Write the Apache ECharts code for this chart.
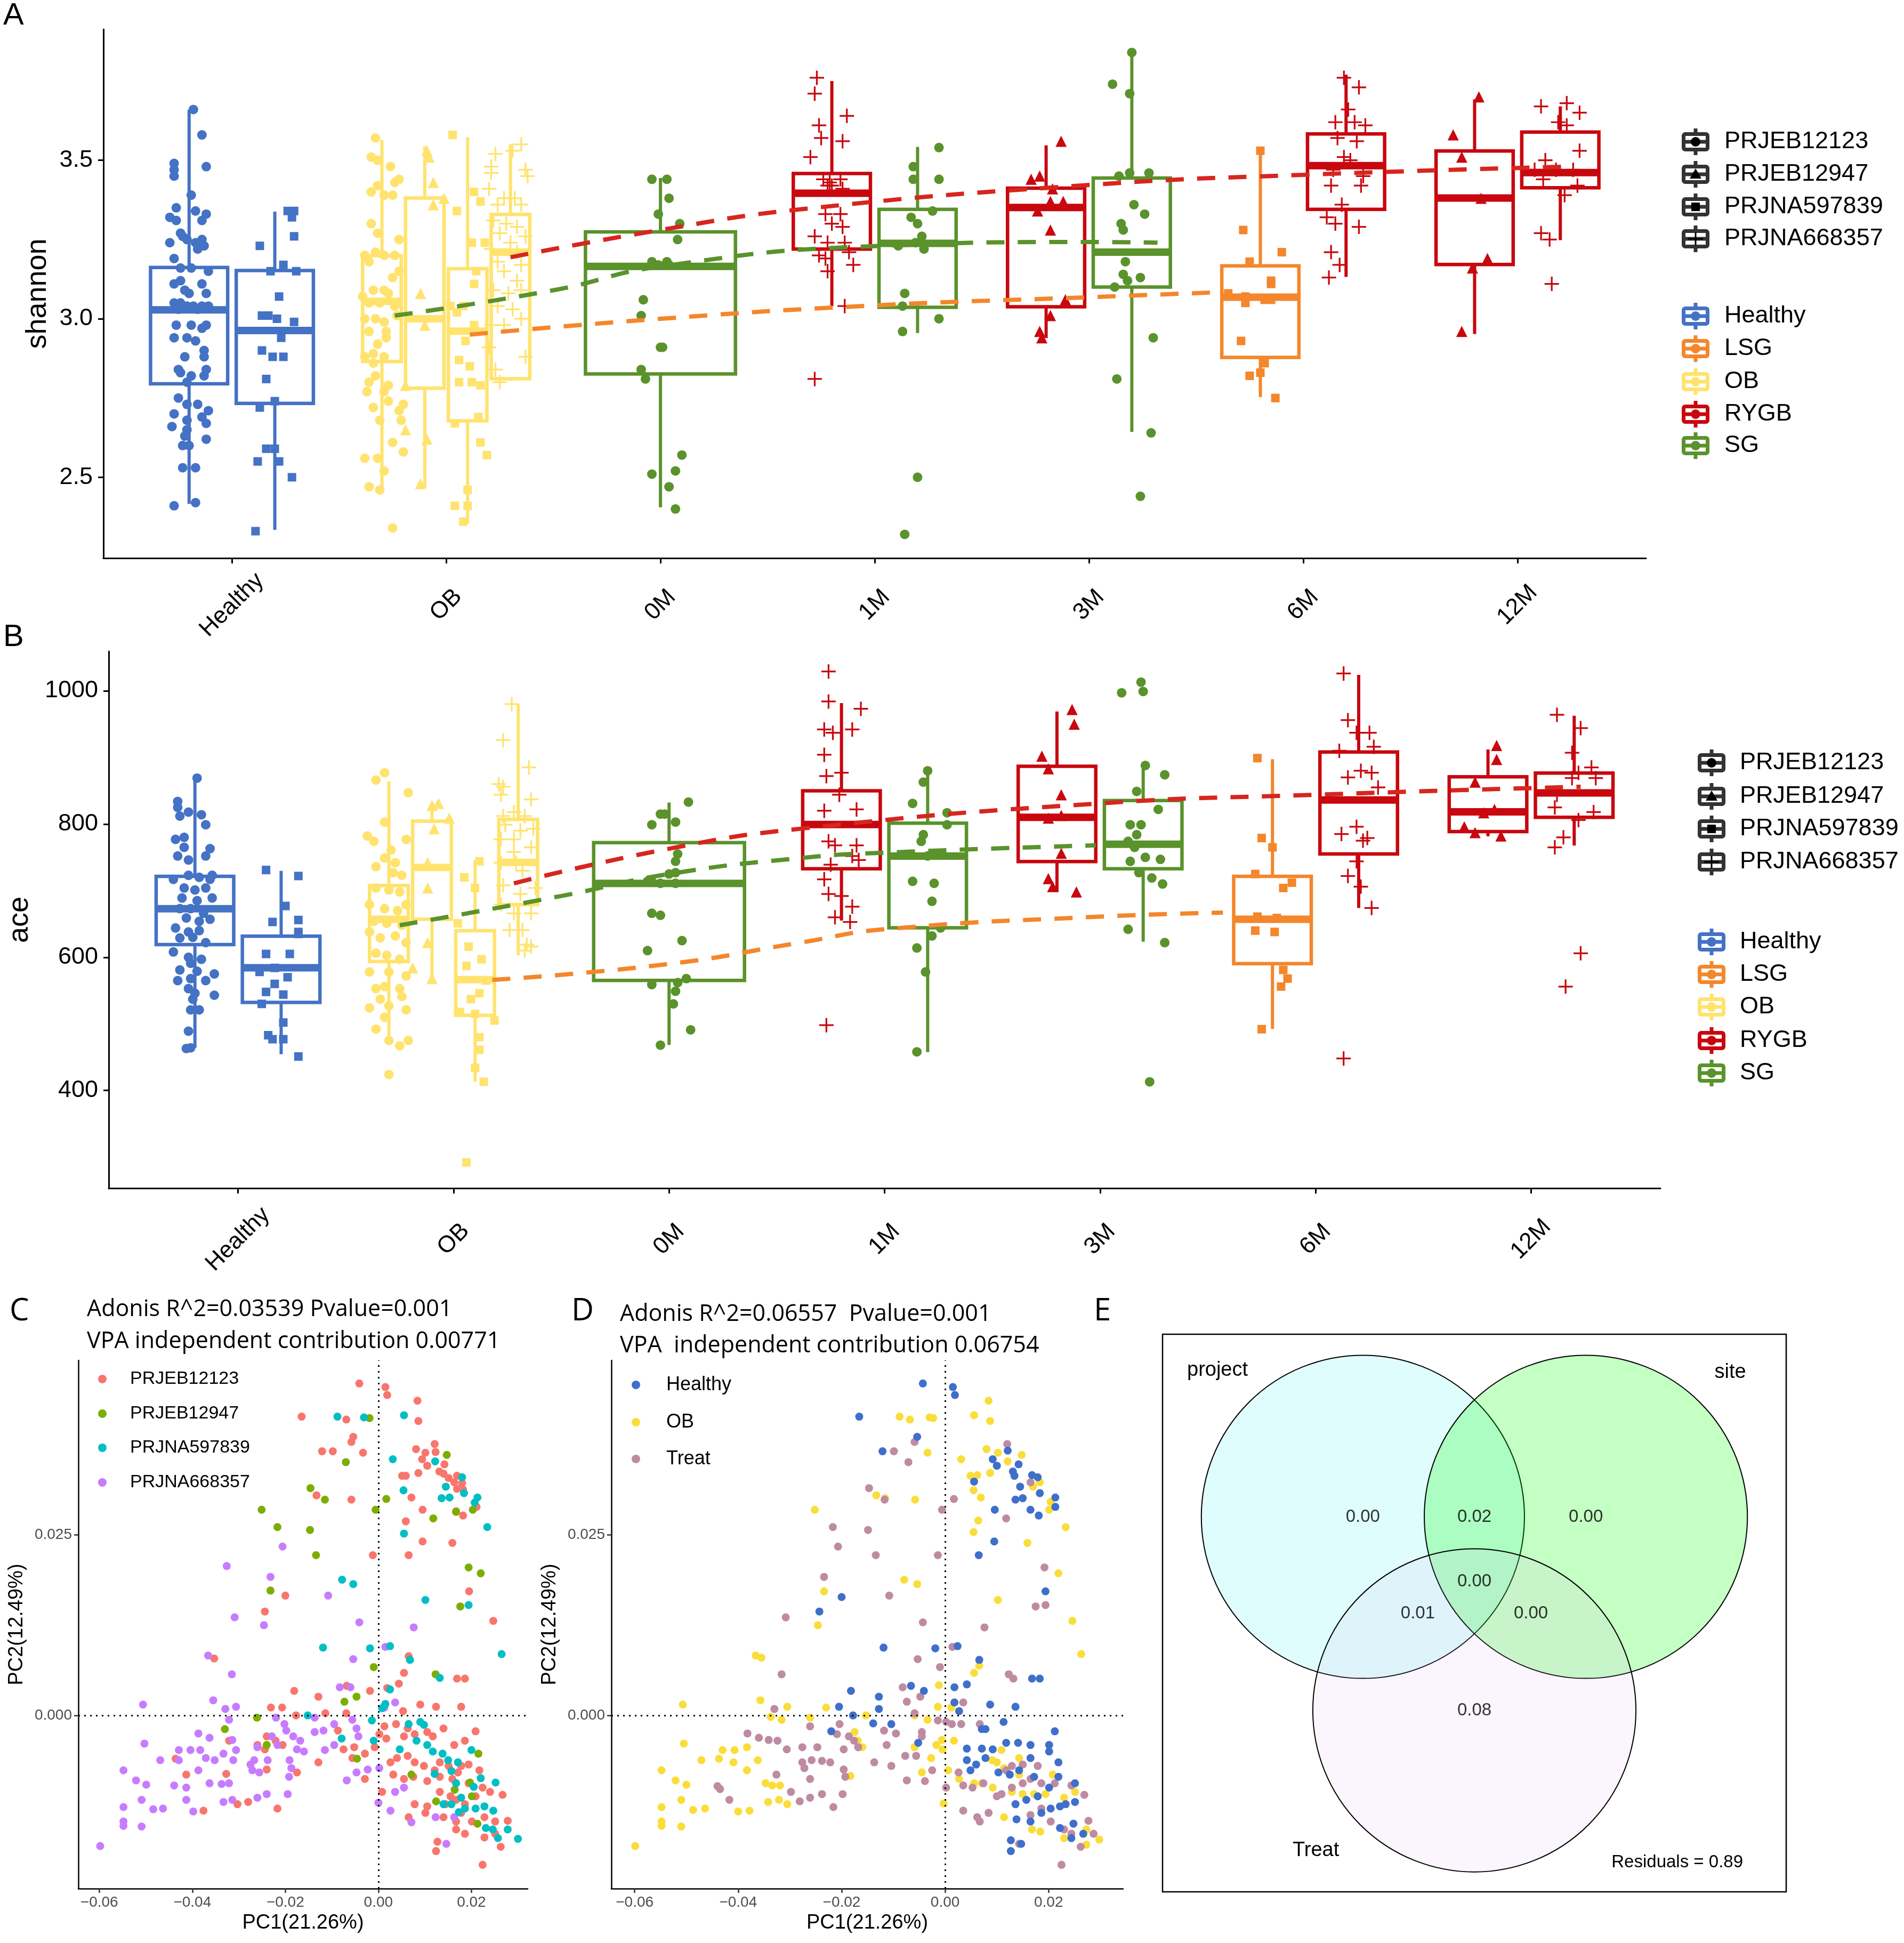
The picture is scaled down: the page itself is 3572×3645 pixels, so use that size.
<!DOCTYPE html>
<html><head><meta charset="utf-8">
<script src="https://cdn.jsdelivr.net/npm/echarts@6/dist/echarts.min.js"></script>
<style>html,body{margin:0;padding:0;background:#fff}#c{width:3572px;height:3645px}</style>
</head><body><div id="c"></div>
<script>
// ---------------- categories / keys ----------------
const categories = ['Healthy','OB','0M','1M','3M','6M','12M'];
const projects = ['PRJEB12123','PRJEB12947','PRJNA597839','PRJNA668357'];
const groups = ['Healthy','LSG','OB','RYGB','SG'];
const groupColors = ['#4472C4','#F4862B','#FFE36E','#C8070E','#5A922B'];
// box keys: [category, group, project]
const boxKeys = [
 ['Healthy','Healthy','PRJEB12123'],['Healthy','Healthy','PRJNA597839'],
 ['OB','OB','PRJEB12123'],['OB','OB','PRJEB12947'],['OB','OB','PRJNA597839'],['OB','OB','PRJNA668357'],
 ['0M','SG','PRJEB12123'],
 ['1M','RYGB','PRJNA668357'],['1M','SG','PRJEB12123'],
 ['3M','RYGB','PRJEB12947'],['3M','SG','PRJEB12123'],
 ['6M','LSG','PRJNA597839'],['6M','RYGB','PRJNA668357'],
 ['12M','RYGB','PRJEB12947'],['12M','RYGB','PRJNA668357']
];
// box stats [low, q1, median, q3, high]
const shannonStats = [
 [2.416,2.795,3.028,3.162,3.659],[2.334,2.733,2.963,3.152,3.338],
 [2.457,2.865,3.055,3.199,3.564],[2.467,2.781,3.000,3.381,3.544],[2.354,2.678,2.961,3.158,3.573],[2.804,2.811,3.210,3.329,3.551],
 [2.405,2.826,3.165,3.274,3.444],
 [3.040,3.220,3.396,3.458,3.750],[2.955,3.036,3.238,3.345,3.542],
 [2.939,3.038,3.351,3.412,3.547],[2.643,3.100,3.210,3.444,3.840],
 [2.753,2.878,3.068,3.167,3.538],[3.132,3.345,3.483,3.583,3.770],
 [2.952,3.171,3.381,3.529,3.692],[3.248,3.413,3.461,3.589,3.670]
];
const aceStats = [
 [464,619,672.8,721.5,869],[454.4,532.3,584.2,631.6,729.7],
 [470.3,593.7,657.0,707.6,863.9],[562.0,657.0,734.8,804.4,832.0],[413.3,512.7,566.5,639.9,745.6],[603.2,679.1,742.4,807.0,979.7],
 [468.4,565.2,710.8,772.1,832.3],
 [655.1,732.9,799.4,850.0,981.6],[457.6,644.3,751.9,801.3,880.4],
 [698.1,743.7,810.1,886.7,969.0],[623.4,732.9,769.6,835.4,888.0],
 [492.4,590.5,657.0,721.5,897.4],[674.0,755.1,836.1,908.2,1024.0],
 [781.6,788.6,818.3,870.9,912.0],[767.7,810.1,846.8,876.6,962.6]
];
// ---------------- shannon points [x, value] ----------------
const shHealthy_EB12123 = [[0.82,3.66],[0.86,3.58],[0.73,3.49],[0.73,3.47],[0.73,3.45],[0.88,3.48],[0.81,3.39],[0.74,3.35],[0.71,3.32],[0.74,3.31],[0.83,3.34],[0.88,3.33],[0.86,3.31],[0.76,3.27],[0.77,3.26],[0.71,3.24],[0.79,3.25],[0.83,3.24],[0.86,3.25],[0.87,3.23],[0.84,3.22],[0.73,3.19],[0.76,3.16],[0.81,3.16],[0.89,3.15],[0.73,3.11],[0.76,3.12],[0.86,3.11],[0.78,3.09],[0.80,3.08],[0.88,3.08],[0.73,3.05],[0.76,3.05],[0.79,3.04],[0.82,3.04],[0.86,3.04],[0.75,3.03],[0.84,3.03],[0.89,3.04],[0.74,2.98],[0.81,2.98],[0.88,2.98],[0.86,2.97],[0.73,2.94],[0.79,2.94],[0.83,2.93],[0.87,2.90],[0.78,2.88],[0.87,2.88],[0.75,2.84],[0.76,2.83],[0.81,2.82],[0.88,2.84],[0.87,2.82],[0.79,2.80],[0.75,2.75],[0.79,2.73],[0.84,2.73],[0.89,2.71],[0.73,2.70],[0.79,2.68],[0.86,2.69],[0.88,2.67],[0.72,2.66],[0.79,2.65],[0.88,2.62],[0.78,2.63],[0.77,2.60],[0.80,2.60],[0.77,2.53],[0.83,2.53],[0.73,2.41],[0.83,2.42]];
const shHealthy_NA597839 = [[1.29,3.34],[1.26,3.34],[1.28,3.32],[1.29,3.26],[1.13,3.23],[1.24,3.17],[1.18,3.15],[1.30,3.15],[1.22,3.07],[1.14,3.01],[1.17,3.01],[1.21,3.00],[1.29,2.99],[1.23,2.94],[1.14,2.90],[1.19,2.88],[1.24,2.88],[1.16,2.81],[1.20,2.74],[1.13,2.72],[1.16,2.59],[1.20,2.59],[1.12,2.55],[1.22,2.55],[1.28,2.50],[1.11,2.33]];
const shOB_EB12123 = [[1.67,3.57],[1.65,3.51],[1.68,3.50],[1.74,3.48],[1.68,3.42],[1.78,3.44],[1.76,3.43],[1.65,3.40],[1.71,3.39],[1.75,3.39],[1.65,3.30],[1.68,3.27],[1.78,3.25],[1.62,3.20],[1.67,3.21],[1.71,3.20],[1.76,3.20],[1.64,3.18],[1.78,3.15],[1.75,3.13],[1.61,3.07],[1.66,3.09],[1.71,3.09],[1.73,3.08],[1.64,3.05],[1.69,3.05],[1.76,3.04],[1.62,3.00],[1.67,3.00],[1.71,2.99],[1.77,3.01],[1.64,2.96],[1.72,2.96],[1.68,2.92],[1.72,2.94],[1.66,2.89],[1.71,2.88],[1.62,2.88],[1.66,2.86],[1.67,2.82],[1.64,2.80],[1.73,2.79],[1.63,2.77],[1.71,2.77],[1.66,2.72],[1.73,2.74],[1.80,2.73],[1.78,2.71],[1.69,2.68],[1.79,2.68],[1.75,2.61],[1.80,2.58],[1.62,2.56],[1.68,2.56],[1.71,2.52],[1.64,2.47],[1.69,2.46],[1.75,2.34]];
const shOB_EB12947 = [[1.91,3.53],[1.92,3.51],[1.94,3.43],[1.94,3.36],[1.99,3.38],[1.88,3.08],[1.90,2.98],[1.81,2.79],[1.81,2.65],[1.91,2.62],[1.88,2.48]];
const shOB_NA597839 = [[2.03,3.58],[2.13,3.40],[2.16,3.37],[2.05,3.34],[2.12,3.24],[2.18,3.24],[2.14,3.15],[2.13,3.11],[2.02,3.04],[2.08,3.04],[2.05,3.02],[2.13,2.98],[2.09,2.93],[2.06,2.87],[2.11,2.85],[2.06,2.80],[2.12,2.80],[2.16,2.79],[2.15,2.69],[2.04,2.67],[2.16,2.61],[2.19,2.57],[2.10,2.46],[2.10,2.41],[2.04,2.41],[2.08,2.36]];
const shOB_NA668357 = [[2.23,3.52],[2.31,3.53],[2.35,3.55],[2.21,3.48],[2.21,3.46],[2.37,3.47],[2.38,3.45],[2.20,3.41],[2.27,3.38],[2.32,3.38],[2.24,3.36],[2.35,3.36],[2.22,3.31],[2.28,3.30],[2.33,3.29],[2.25,3.27],[2.37,3.26],[2.30,3.24],[2.21,3.22],[2.33,3.21],[2.24,3.18],[2.35,3.17],[2.27,3.15],[2.33,3.12],[2.22,3.09],[2.29,3.08],[2.35,3.09],[2.24,3.04],[2.31,3.03],[2.21,2.98],[2.35,3.00],[2.27,2.98],[2.37,2.88],[2.23,2.84],[2.25,2.80],[2.20,2.91]];
const sh0M_SG = [[2.96,3.44],[3.03,3.44],[3.04,3.38],[2.99,3.33],[3.09,3.30],[3.08,3.25],[2.96,3.18],[3.03,3.18],[2.99,3.17],[3.04,3.17],[2.92,3.06],[2.91,3.01],[3.01,2.91],[3.00,2.91],[2.91,2.84],[2.93,2.81],[3.10,2.57],[3.07,2.52],[2.96,2.51],[3.04,2.47],[3.07,2.40]];
const sh1M_RYGB = [[3.73,3.76],[3.72,3.71],[3.87,3.64],[3.74,3.61],[3.75,3.57],[3.85,3.56],[3.70,3.51],[3.76,3.44],[3.79,3.43],[3.84,3.44],[3.78,3.42],[3.80,3.42],[3.85,3.41],[3.77,3.33],[3.84,3.33],[3.80,3.30],[3.85,3.29],[3.72,3.26],[3.78,3.24],[3.86,3.24],[3.74,3.20],[3.77,3.19],[3.88,3.21],[3.90,3.17],[3.78,3.15],[3.86,3.04],[3.72,2.81]];
const sh1M_SG = [[4.30,3.54],[4.18,3.48],[4.18,3.44],[4.30,3.44],[4.27,3.34],[4.17,3.32],[4.20,3.30],[4.22,3.26],[4.11,3.23],[4.19,3.24],[4.23,3.22],[4.14,3.08],[4.13,3.04],[4.30,3.00],[4.13,2.96],[4.20,2.50],[4.14,2.32]];
const sh3M_RYGB = [[4.87,3.56],[4.73,3.44],[4.77,3.45],[4.83,3.41],[4.82,3.37],[4.88,3.37],[4.76,3.34],[4.82,3.28],[4.89,3.06],[4.82,3.01],[4.77,2.96],[4.78,2.94]];
const sh3M_SG = [[5.20,3.84],[5.11,3.74],[5.19,3.71],[5.14,3.45],[5.19,3.46],[5.28,3.46],[5.21,3.36],[5.26,3.33],[5.15,3.30],[5.16,3.28],[5.17,3.18],[5.16,3.14],[5.24,3.13],[5.18,3.12],[5.12,3.10],[5.30,2.94],[5.13,2.81],[5.29,2.64],[5.24,2.44]];
const sh6M_LSG = [[5.80,3.53],[5.72,3.28],[5.75,3.18],[5.90,3.21],[5.85,3.12],[5.85,3.11],[5.73,3.07],[5.82,3.06],[5.65,3.08],[5.85,3.06],[5.73,3.05],[5.71,2.93],[5.82,2.86],[5.75,2.82],[5.80,2.83],[5.87,2.75]];
const sh6M_RYGB = [[6.19,3.76],[6.26,3.73],[6.21,3.66],[6.15,3.62],[6.24,3.62],[6.29,3.61],[6.16,3.57],[6.25,3.56],[6.19,3.51],[6.22,3.50],[6.14,3.47],[6.28,3.45],[6.27,3.42],[6.13,3.42],[6.18,3.36],[6.11,3.32],[6.15,3.30],[6.26,3.29],[6.13,3.21],[6.17,3.17],[6.12,3.13]];
const sh12M_RYGB_EB12947 = [[6.82,3.70],[6.70,3.58],[6.74,3.51],[6.83,3.38],[6.86,3.19],[6.79,3.16],[6.74,2.96]];
const sh12M_RYGB_NA668357 = [[7.11,3.67],[7.23,3.68],[7.29,3.65],[7.19,3.62],[7.23,3.61],[7.13,3.50],[7.29,3.53],[7.08,3.47],[7.18,3.47],[7.26,3.47],[7.12,3.44],[7.28,3.42],[7.22,3.39],[7.11,3.27],[7.15,3.25],[7.16,3.11]];
// ---------------- ace points [x, value] ----------------
const aceHealthy_EB12123 = [[0.81,869],[0.72,834],[0.72,825],[0.77,818],[0.83,814],[0.85,799],[0.73,812],[0.75,780],[0.71,777],[0.75,765],[0.87,763],[0.72,752],[0.85,752],[0.77,746],[0.88,723],[0.70,717],[0.77,723],[0.82,720],[0.87,717],[0.75,704],[0.80,701],[0.85,704],[0.74,689],[0.81,685],[0.88,689],[0.73,673],[0.78,673],[0.84,666],[0.76,659],[0.82,654],[0.87,657],[0.71,644],[0.77,638],[0.82,640],[0.73,629],[0.79,630],[0.85,622],[0.70,608],[0.77,600],[0.83,597],[0.78,591],[0.73,581],[0.81,579],[0.89,575],[0.72,565],[0.78,568],[0.85,565],[0.77,553],[0.80,546],[0.89,543],[0.79,537],[0.78,521],[0.82,521],[0.77,489],[0.78,464],[0.76,463]];
const aceHealthy_NA597839 = [[1.13,731],[1.28,722],[1.22,677],[1.16,653],[1.28,656],[1.28,638],[1.28,635],[1.13,605],[1.24,605],[1.10,578],[1.17,584],[1.23,570],[1.13,548],[1.21,544],[1.17,560],[1.11,530],[1.21,502],[1.14,483],[1.16,477],[1.21,477],[1.28,451]];
const aceOB_EB12123 = [[1.68,877],[1.64,866],[1.79,847],[1.68,803],[1.60,782],[1.63,774],[1.71,761],[1.78,777],[1.68,749],[1.64,736],[1.73,742],[1.72,727],[1.76,723],[1.64,704],[1.70,701],[1.75,698],[1.61,679],[1.68,673],[1.74,670],[1.78,679],[1.63,654],[1.69,651],[1.76,648],[1.61,638],[1.66,629],[1.73,632],[1.78,622],[1.64,606],[1.69,603],[1.75,597],[1.61,578],[1.70,578],[1.78,572],[1.64,553],[1.68,556],[1.75,553],[1.76,541],[1.66,537],[1.61,524],[1.70,527],[1.78,521],[1.68,510],[1.64,492],[1.70,475],[1.75,467],[1.79,475],[1.70,424]];
const aceOB_EB12947 = [[1.93,831],[1.90,828],[1.98,809],[1.91,793],[1.88,704],[1.88,742],[1.81,584],[1.90,568],[1.88,622]];
const aceOB_NA597839 = [[2.12,744],[2.05,720],[2.10,704],[2.02,651],[2.07,616],[2.13,597],[2.06,587],[2.15,565],[2.12,546],[2.08,537],[2.03,518],[2.10,515],[2.19,505],[2.12,480],[2.12,461],[2.10,434],[2.14,413],[2.06,292]];
const aceOB_NA668357 = [[2.27,980],[2.23,926],[2.35,885],[2.21,860],[2.23,856],[2.22,844],[2.36,837],[2.28,818],[2.23,812],[2.33,812],[2.24,799],[2.31,790],[2.37,793],[2.28,777],[2.22,777],[2.28,758],[2.36,765],[2.22,742],[2.29,742],[2.32,730],[2.23,708],[2.31,695],[2.38,704],[2.22,679],[2.28,666],[2.36,666],[2.26,641],[2.32,641],[2.34,619],[2.33,610],[2.36,616]];
const ace0M_SG = [[3.09,833],[2.96,815],[2.92,799],[2.98,815],[3.03,803],[3.04,755],[3.03,744],[3.00,725],[3.03,727],[2.90,714],[2.92,714],[2.96,711],[3.03,711],[2.92,666],[2.96,663],[3.06,625],[2.90,610],[2.92,559],[3.04,562],[3.08,568],[3.03,549],[3.02,530],[3.10,491],[2.96,468]];
const ace1M_RYGB = [[3.74,1029],[3.74,984],[3.89,973],[3.72,942],[3.76,937],[3.85,942],[3.72,904],[3.73,872],[3.80,877],[3.79,844],[3.87,822],[3.72,820],[3.74,774],[3.77,768],[3.87,768],[3.85,752],[3.88,746],[3.75,739],[3.72,717],[3.74,695],[3.80,692],[3.85,676],[3.77,660],[3.84,653],[3.73,498]];
const ace1M_SG = [[4.20,880],[4.18,863],[4.13,831],[4.17,774],[4.18,784],[4.29,817],[4.29,799],[4.20,752],[4.26,755],[4.13,714],[4.23,711],[4.22,684],[4.26,644],[4.22,632],[4.15,614],[4.19,578],[4.15,458]];
const ace3M_RYGB = [[4.87,972],[4.88,950],[4.73,902],[4.76,883],[4.82,844],[4.76,809],[4.82,813],[4.82,756],[4.76,718],[4.78,706],[4.89,698]];
const ace3M_SG = [[5.19,1013],[5.10,997],[5.20,999],[5.21,888],[5.30,874],[5.17,849],[5.27,822],[5.14,799],[5.19,799],[5.17,784],[5.13,774],[5.16,765],[5.14,744],[5.21,750],[5.28,747],[5.18,727],[5.24,719],[5.29,710],[5.13,642],[5.30,622],[5.23,413]];
const ace6M_LSG = [[5.73,899],[5.75,779],[5.80,765],[5.72,725],[5.89,712],[5.85,704],[5.73,661],[5.82,659],[5.72,640],[5.81,638],[5.85,581],[5.87,568],[5.84,556],[5.75,492]];
const ace6M_RYGB = [[6.13,1026],[6.15,956],[6.19,937],[6.25,937],[6.11,910],[6.27,916],[6.15,870],[6.21,880],[6.26,877],[6.29,855],[6.19,796],[6.12,785],[6.22,775],[6.24,779],[6.19,744],[6.15,722],[6.21,706],[6.26,674],[6.13,448]];
const ace12M_RYGB_EB12947 = [[6.84,918],[6.84,897],[6.74,863],[6.83,822],[6.78,817],[6.69,796],[6.74,787],[6.86,782]];
const ace12M_RYGB_NA668357 = [[7.12,964],[7.23,944],[7.19,907],[7.22,877],[7.28,885],[7.30,869],[7.19,869],[7.12,844],[7.11,825],[7.29,818],[7.22,806],[7.15,780],[7.11,765],[7.23,606],[7.16,556]];
// ---------------- smoothed trend lines [x, value] ----------------
const shTrendRYGB = [[2.30,3.194],[3.0,3.28],[3.65,3.345],[5.0,3.422],[6.0,3.454],[7.25,3.48]];
const shTrendSG = [[1.76,3.01],[2.5,3.09],[3.0,3.165],[4.0,3.229],[5.0,3.242],[5.32,3.24]];
const shTrendLSG = [[2.11,2.95],[3.0,3.0],[4.0,3.042],[5.0,3.068],[5.62,3.084]];
const aceTrendRYGB = [[2.28,711],[3.0,763],[3.61,793],[5.0,831],[6.0,844],[7.23,856]];
const aceTrendSG = [[1.75,648],[2.5,692],[3.0,725],[3.61,749],[4.0,757],[4.98,768]];
const aceTrendLSG = [[2.18,566],[3.0,590],[3.61,622],[4.0,642],[5.0,661],[5.57,667]];
// ---------------- PCoA points, PC1/PC2 in units of 1e-3 ----------------
const pcPRJEB12123 = [[-4.1,46.0],[1.5,45.5],[1.9,44.4],[8.4,43.6],[-16.5,41.4],[-6.9,41.0],[8.6,40.8],[-5.4,38.6],[-5.8,37.9],[-12.1,36.6],[-9.8,36.6],[-3.3,36.4],[8.1,36.9],[10.1,36.4],[12.1,37.6],[12.3,36.5],[9.4,35.5],[10.5,34.6],[14.2,34.8],[13.1,33.8],[8.6,33.6],[14.0,33.5],[15.1,32.9],[5.1,33.2],[5.9,33.2],[16.9,33.2],[16.3,32.3],[18.0,32.2],[16.9,31.4],[7.1,30.2],[-13.3,30.5],[-5.8,29.9],[18.2,31.3],[9.5,28.5],[5.9,26.9],[9.5,24.1],[15.9,23.9],[6.5,22.2],[-1.2,22.2],[18.2,27.7],[21.1,28.9],[16.7,28.3],[-20.0,16.6],[-24.4,14.4],[24.7,13.1],[19.5,17.2],[-35.3,7.9],[6.5,8.2],[5.5,5.9],[4.4,4.4],[1.9,3.8],[16.9,5.1],[18.6,5.1],[-18.1,3.4],[-12.9,2.6],[-6.8,4.1],[-1.8,3.4],[-23.1,1.1],[-20.7,1.1],[-11.4,0.3],[-6.9,0.3],[9.0,1.5],[5.3,0.6],[12.4,1.2],[17.8,1.2],[-17.7,0.0],[-24.0,-2.9],[-22.1,-3.5],[-32.1,-3.5],[-26.0,-4.1],[-24.4,-4.7],[-20.6,-4.1],[-43.6,-6.0],[-41.3,-8.2],[-32.7,-8.1],[-24.0,-7.5],[-8.7,-2.1],[-7.5,-4.7],[-5.2,-4.4],[-5.6,-5.9],[-2.9,-5.3],[-0.8,-4.4],[0.2,-2.6],[1.7,-3.2],[1.3,-1.5],[3.8,-1.2],[6.3,-1.8],[5.5,-2.9],[7.8,-2.6],[10.5,-2.3],[14.0,-1.8],[11.7,-2.9],[16.3,-4.1],[18.6,-3.5],[20.9,-2.2],[2.6,-6.5],[4.0,-5.9],[6.3,-5.6],[7.8,-6.5],[9.8,-7.0],[12.1,-7.6],[13.2,-6.5],[15.1,-7.0],[17.8,-7.0],[19.4,-6.8],[21.7,-7.6],[3.2,-8.2],[5.5,-8.8],[7.5,-8.5],[10.5,-9.1],[13.2,-8.5],[15.9,-8.8],[19.4,-9.4],[17.1,-7.9],[-2.9,-8.8],[-12.9,-6.5],[-17.5,-7.9],[-30.3,-12.3],[-28.0,-12.0],[-37.6,-13.2],[0.8,-10.6],[6.5,-14.1],[7.8,-12.3],[10.5,-12.6],[10.1,-13.5],[13.2,-10.6],[15.5,-11.2],[14.4,-12.3],[16.7,-11.7],[18.6,-12.3],[20.9,-11.2],[22.4,-10.0],[24.0,-10.6],[26.7,-11.0],[17.8,-13.5],[20.1,-14.7],[22.8,-14.1],[25.1,-14.7],[27.8,-14.6],[16.7,-15.8],[18.6,-16.4],[22.8,-16.9],[25.1,-16.4],[26.3,-18.2],[12.7,-17.5],[12.4,-18.8],[22.4,-20.7],[14.0,-14.1],[16.7,-14.7],[-21.7,-12.9]];
const pcPRJEB12947 = [[-1.9,41.2],[-7.0,35.1],[-14.6,31.5],[-11.5,29.9],[1.7,30.0],[14.7,36.1],[-0.6,28.5],[-25.1,28.5],[-21.7,26.1],[-14.7,25.7],[-13.4,22.2],[11.8,27.3],[20.3,28.5],[16.7,28.2],[19.4,20.5],[22.0,19.7],[-23.2,17.3],[17.6,15.1],[-1.0,6.7],[12.3,5.7],[-7.3,1.9],[-4.7,2.6],[-26.1,-0.3],[-33.0,-1.9],[-4.6,-6.0],[-24.0,-4.1],[21.5,-5.3],[19.7,-9.3],[7.1,-8.2],[12.4,-11.9],[16.4,-10.3],[21.3,-15.0],[20.1,-11.2]];
const pcPRJNA597839 = [[-8.8,41.4],[-3.1,41.3],[5.5,41.6],[3.1,35.5],[12.2,35.2],[18.0,33.0],[5.4,31.2],[14.5,31.7],[13.6,30.1],[15.3,30.2],[18.4,30.8],[23.4,26.1],[5.5,25.2],[20.7,29.5],[21.3,30.2],[-7.8,18.8],[-5.4,18.2],[10.1,16.0],[19.4,15.3],[26.5,8.5],[-11.9,9.4],[-1.8,9.3],[2.5,9.6],[6.8,7.7],[13.2,5.2],[2.5,3.6],[1.5,1.6],[0.8,1.0],[-15.2,0.0],[-1.4,-0.7],[6.5,-1.2],[9.0,-0.9],[9.8,-1.3],[-1.0,-3.5],[4.6,-4.7],[8.2,-3.5],[10.5,-4.1],[11.7,-5.0],[13.8,-5.3],[15.0,-6.2],[17.1,-6.5],[20.0,-4.8],[12.1,-8.1],[15.7,-7.7],[16.7,-9.4],[22.0,-8.7],[25.2,-9.3],[-7.9,-3.2],[14.0,-12.3],[15.7,-12.3],[17.8,-11.4],[18.6,-12.9],[20.9,-12.9],[22.8,-12.6],[24.7,-13.2],[23.1,-15.6],[24.6,-15.8],[25.7,-17.0],[27.8,-15.8],[30.0,-17.1],[20.5,-9.9],[17.3,-13.4]];
const pcPRJNA668357 = [[-20.6,23.4],[-32.6,20.7],[-23.2,19.2],[-10.8,16.6],[-30.9,13.6],[-24.6,12.5],[-4.1,12.9],[7.6,12.2],[-36.6,8.3],[1.5,9.5],[-5.4,7.8],[-31.5,5.7],[-35.5,2.1],[-30.6,1.2],[-32.9,0.9],[-50.6,1.5],[-8.3,3.9],[-6.0,3.9],[3.6,1.8],[1.3,1.1],[-22.0,-0.3],[-13.7,-0.3],[-32.1,-0.6],[-50.3,-3.9],[-54.8,-7.6],[-52.1,-9.0],[-49.9,-9.6],[-46.9,-6.2],[-42.9,-4.8],[-40.4,-4.8],[-42.9,-6.2],[-38.7,-2.5],[-36.3,-3.1],[-38.3,-4.8],[-37.1,-5.9],[-35.2,-6.2],[-33.3,-5.3],[-31.4,-3.4],[-30.6,-4.8],[-31.2,-6.2],[-26.7,-6.2],[-26.0,-4.4],[-27.5,-6.8],[-27.1,-7.6],[-25.6,-7.9],[-23.8,-6.2],[-22.9,-2.9],[-21.7,-4.1],[-20.2,-1.2],[-19.8,-2.1],[-18.3,-2.9],[-16.8,-3.5],[-17.5,-4.7],[-16.0,-5.0],[-19.1,-6.2],[-18.7,-7.3],[-19.2,-8.5],[-13.7,-2.3],[-11.8,-2.1],[-9.5,-1.2],[-9.5,-4.1],[-11.5,-4.8],[-5.6,-0.6],[-4.7,-1.8],[-4.3,-2.9],[-6.8,-9.0],[-4.7,-7.9],[-2.3,-7.5],[0.2,-7.3],[-32.1,-9.4],[-33.7,-9.5],[-43.9,-9.7],[-41.3,-10.0],[-38.7,-7.6],[-36.3,-9.4],[-54.8,-12.7],[-54.8,-14.7],[-54.8,-15.3],[-50.9,-11.7],[-50.9,-15.4],[-48.4,-13.0],[-46.3,-12.9],[-59.8,-18.1],[-41.3,-11.7],[-39.8,-13.3],[-31.4,-11.7],[-33.3,-12.0],[-26.0,-11.4],[-24.0,-10.9],[-19.5,-10.9],[0.0,-12.1],[2.6,-13.2],[3.6,-10.6],[7.1,-14.8],[12.3,-14.1],[14.6,-17.8],[16.3,-14.1],[5.5,-10.0]];
const pcHealthy = [[-4.3,46.0],[1.5,45.5],[1.9,44.4],[-16.6,41.4],[-5.4,38.6],[-12.1,36.6],[12.1,36.7],[9.2,35.5],[10.0,34.6],[14.2,34.8],[13.1,33.8],[5.6,32.4],[13.4,33.2],[16.8,33.3],[17.9,33.0],[14.5,31.7],[18.3,30.8],[13.6,29.9],[15.0,30.1],[9.6,28.5],[16.5,28.5],[18.1,27.7],[21.3,30.2],[21.3,28.9],[9.5,24.1],[6.5,22.2],[19.4,17.2],[-20.0,16.4],[-24.3,14.4],[-11.9,9.4],[-1.9,9.3],[2.4,9.6],[6.6,7.7],[16.8,5.1],[18.3,5.1],[1.8,3.9],[4.2,4.3],[-18.2,3.4],[-12.8,2.6],[-6.6,4.1],[-4.1,3.4],[-20.5,1.2],[1.8,1.8],[2.7,0.6],[8.7,1.5],[13.6,1.2],[-17.8,0.0],[-13.9,-1.1],[-12.8,0.9],[-22.0,-2.2],[-10.4,-1.2],[-5.2,-3.8],[7.1,-1.9],[7.8,-1.9],[11.3,-0.9],[21.2,-2.2],[4.2,-4.6],[7.1,-4.6],[9.2,-4.7],[11.8,-3.8],[14.1,-3.8],[16.5,-4.1],[20.1,-4.1],[4.2,-6.2],[6.0,-6.8],[7.8,-5.9],[12.5,-8.2],[16.5,-5.9],[20.1,-5.0],[21.9,-6.5],[4.9,-7.6],[10.3,-7.9],[14.3,-7.6],[17.2,-8.5],[20.1,-10.0],[21.9,-8.5],[25.1,-9.4],[13.6,-12.3],[15.7,-11.7],[17.9,-11.2],[20.4,-12.9],[22.2,-12.6],[23.3,-12.3],[25.1,-12.0],[13.8,-14.4],[16.5,-14.7],[18.6,-13.5],[22.2,-15.6],[24.8,-15.0],[24.4,-17.0],[26.7,-16.4],[12.7,-17.3],[12.7,-18.8],[14.7,-17.8]];
const pcOB = [[8.4,43.6],[-8.8,41.4],[-6.8,41.0],[-3.0,41.3],[-2.3,41.2],[5.6,41.6],[8.7,40.8],[-3.4,36.4],[8.0,36.9],[10.2,36.4],[3.1,35.5],[12.1,35.2],[14.8,36.1],[8.7,33.6],[4.9,33.2],[6.2,33.3],[5.5,31.2],[6.9,30.2],[-13.3,30.5],[-11.6,30.1],[-5.8,29.9],[17.0,31.7],[18.3,32.3],[20.4,29.6],[20.1,28.5],[-25.2,28.5],[6.4,27.0],[5.5,25.4],[15.9,23.9],[23.3,26.1],[21.9,19.7],[-7.9,18.8],[-5.4,18.2],[-23.4,17.2],[10.2,16.0],[24.6,13.1],[-24.6,12.5],[26.3,8.5],[-36.6,8.3],[-35.5,8.0],[6.6,6.9],[5.6,5.9],[-1.2,4.2],[-50.7,1.5],[-35.7,2.1],[-30.5,1.2],[-33.7,-0.2],[-31.6,-0.6],[-26.1,-0.3],[-23.0,1.1],[-15.3,0.0],[-5.9,0.0],[-1.4,1.2],[1.2,1.1],[-3.4,-0.6],[-0.6,-3.4],[1.7,-3.5],[-1.7,-4.1],[-0.5,-4.7],[-5.9,-4.4],[-4.5,-7.9],[0.6,-7.6],[2.7,-8.8],[5.6,-9.4],[10.0,-6.5],[11.4,-7.3],[14.3,-8.2],[15.0,-10.9],[17.2,-10.9],[19.4,-10.9],[20.8,-8.2],[23.0,-11.4],[25.1,-10.6],[10.9,-4.8],[9.1,-6.2],[14.3,-5.9],[7.1,-9.4],[9.2,-10.0],[12.9,-10.6],[11.4,-14.1],[16.8,-15.8],[18.4,-16.1],[23.0,-17.0],[27.3,-17.9],[29.8,-17.2],[27.3,-15.8],[-0.3,-12.2],[-50.5,-3.9],[-54.8,-7.6],[-52.1,-9.0],[-50.0,-9.6],[-47.1,-6.2],[-43.0,-4.8],[-40.7,-4.8],[-43.7,-6.0],[-40.9,-6.5],[-38.3,-4.4],[-38.3,-7.6],[-36.2,-6.2],[-34.7,-9.4],[-33.4,-9.7],[-31.9,-9.7],[-34.2,-12.0],[-32.1,-11.7],[-30.5,-12.3],[-54.8,-12.7],[-54.8,-14.7],[-54.8,-15.3],[-51.0,-11.7],[-51.0,-15.4],[-48.7,-13.1],[-46.4,-12.9],[-59.9,-18.1],[-40.0,-13.3],[-37.8,-13.2],[-16.9,-3.5],[-17.5,-2.3],[-18.3,-8.4],[-16.0,-4.4],[-2.7,-5.9]];
const pcTreat = [[-9.9,36.6],[-7.1,35.1],[-5.9,37.9],[12.0,37.6],[-14.7,31.5],[-11.7,29.9],[-0.6,28.5],[1.7,30.0],[-21.7,26.1],[-14.9,25.7],[-20.7,23.4],[-13.4,22.2],[-1.4,22.2],[11.8,27.3],[16.5,32.3],[19.2,20.5],[17.5,15.1],[19.4,15.3],[-23.4,19.2],[-10.8,16.6],[7.6,12.2],[-30.8,13.6],[-4.3,12.9],[-31.6,5.7],[-5.3,7.8],[-1.0,6.7],[1.4,9.5],[12.3,5.7],[13.2,5.1],[-8.2,3.9],[-4.8,2.6],[-7.4,1.9],[3.5,1.8],[0.2,-0.9],[3.1,-1.2],[6.7,-1.2],[-5.9,0.3],[-1.4,-0.7],[-33.0,0.9],[-38.2,-2.5],[-36.0,-3.1],[-34.1,-3.4],[-32.4,-3.5],[-30.6,-4.7],[-26.1,-1.5],[-24.7,-4.4],[-20.4,-1.2],[-20.9,-2.6],[-18.6,-2.9],[-17.6,-3.5],[-16.8,-4.4],[-19.6,-4.7],[-13.7,-6.5],[-10.4,-7.0],[-7.7,-5.6],[-5.6,-5.6],[-4.5,-2.3],[-4.5,-2.9],[-11.8,-2.1],[-11.3,-4.1],[-9.5,-2.5],[-27.6,-4.4],[-25.8,-6.2],[-23.8,-6.3],[-27.6,-6.5],[-27.2,-7.3],[-26.1,-8.8],[-23.8,-10.9],[-22.2,-6.5],[-19.6,-7.5],[-19.3,-8.5],[-19.8,-10.9],[-21.6,-12.7],[-28.1,-11.9],[-26.1,-11.4],[-29.8,-10.6],[-32.6,-8.2],[-44.0,-9.8],[-43.5,-10.2],[-41.7,-11.7],[-7.4,-9.0],[-3.9,-9.1],[-2.5,-7.6],[0.2,-10.0],[2.6,-7.9],[3.5,-9.7],[5.3,-10.0],[7.4,-9.4],[3.5,-13.2],[6.2,-14.1],[6.7,-14.7],[8.4,-13.5],[10.0,-11.2],[10.9,-10.9],[12.9,-10.0],[15.0,-9.4],[16.5,-8.8],[18.6,-9.4],[21.2,-9.4],[24.4,-9.7],[26.9,-11.0],[12.9,-7.0],[15.0,-6.8],[17.9,-7.0],[16.5,-13.8],[18.6,-12.9],[20.4,-14.7],[23.0,-15.8],[24.4,-16.4],[26.2,-18.2],[27.7,-14.6],[28.7,-16.4],[14.3,-17.8],[22.5,-20.7],[11.8,-7.6],[1.3,-1.2]];
const pcProjectColors = ['#F8766D','#7CAE00','#00BFC4','#C77CFF'];
const treatNames = ['Healthy','OB','Treat'];
const treatColors = ['#3F6FCB','#FBDD3A','#BE8BA2'];
// ---------------- variation partitioning (Venn) ----------------
const vennSetNames = ['project','site','Treat'];
const vennCenters = [[-0.69,0.6],[0.69,0.6],[0,-0.6]];   // in circle-radius units
const vennFills = ['rgba(0,235,235,0.12)','rgba(0,255,0,0.23)','rgba(225,175,235,0.12)'];
const vennValues = ['0.00','0.02','0.00','0.00','0.01','0.00','0.08'];
const vennValuePos = [[-0.69,0.6],[0,0.6],[0.69,0.6],[0,0.2],[-0.35,0.0],[0.35,0.0],[0,-0.6]];
const vennResiduals = 0.89;

// ---------------- build ----------------
const shannonPts = [shHealthy_EB12123,shHealthy_NA597839,shOB_EB12123,shOB_EB12947,shOB_NA597839,shOB_NA668357,sh0M_SG,sh1M_RYGB,sh1M_SG,sh3M_RYGB,sh3M_SG,sh6M_LSG,sh6M_RYGB,sh12M_RYGB_EB12947,sh12M_RYGB_NA668357];
const acePts = [aceHealthy_EB12123,aceHealthy_NA597839,aceOB_EB12123,aceOB_EB12947,aceOB_NA597839,aceOB_NA668357,ace0M_SG,ace1M_RYGB,ace1M_SG,ace3M_RYGB,ace3M_SG,ace6M_LSG,ace6M_RYGB,ace12M_RYGB_EB12947,ace12M_RYGB_NA668357];
const PLUS = 'path://M44,0H56V44H100V56H56V100H44V56H0V44H44Z';
const projSymbol = {PRJEB12123:'circle',PRJEB12947:'triangle',PRJNA597839:'rect',PRJNA668357:PLUS};
const projSize = {PRJEB12123:18,PRJEB12947:21,PRJNA597839:16,PRJNA668357:27};
const FONT = '"Liberation Sans", Arial, sans-serif';
const FONT2 = '"Open Sans", "Liberation Sans", sans-serif';

const dodge = boxKeys.map(k => {
  const same = boxKeys.filter(b => b[0] === k[0]);
  const n = same.length, j = same.indexOf(k);
  const slot = 0.8 / n;
  return {x: categories.indexOf(k[0]) + 1 - 0.4 + slot * (j + 0.5), w: n === 1 ? 0.7 : slot * 0.9};
});
function boxData(stats) {
  return stats.map((s, i) => [dodge[i].x, s[0], s[1], s[2], s[3], s[4], dodge[i].w, groups.indexOf(boxKeys[i][1])]);
}
function renderBox(params, api) {
  const x = api.value(0), w = api.value(6), c = groupColors[api.value(7)];
  const pH = api.coord([x, api.value(5)]), p3 = api.coord([x, api.value(4)]), pm = api.coord([x, api.value(3)]);
  const p1 = api.coord([x, api.value(2)]), pL = api.coord([x, api.value(1)]);
  const hw = api.size([w, 0])[0] / 2, cx = pH[0];
  return {type:'group', children:[
    {type:'line', shape:{x1:cx,y1:pH[1],x2:cx,y2:p3[1]}, style:{stroke:c,lineWidth:6}},
    {type:'line', shape:{x1:cx,y1:p1[1],x2:cx,y2:pL[1]}, style:{stroke:c,lineWidth:6}},
    {type:'rect', shape:{x:cx-hw,y:p3[1],width:2*hw,height:p1[1]-p3[1]}, style:{fill:'none',stroke:c,lineWidth:6.5}},
    {type:'line', shape:{x1:cx-hw,y1:pm[1],x2:cx+hw,y2:pm[1]}, style:{stroke:c,lineWidth:14}}
  ]};
}
const series = [];
function boxPanel(stats, pts, trends, ax) {
  series.push({type:'custom', xAxisIndex:ax, yAxisIndex:ax, data:boxData(stats), renderItem:renderBox, z:2, silent:true, encode:{x:0,y:[1,5]}});
  pts.forEach((p, i) => {
    const proj = boxKeys[i][2], col = groupColors[groups.indexOf(boxKeys[i][1])];
    series.push({type:'scatter', xAxisIndex:ax, yAxisIndex:ax, data:p, symbol:projSymbol[proj], symbolSize:projSize[proj],
      itemStyle:{color:col, opacity:1}, z:3, silent:true});
  });
  trends.forEach(t => series.push({type:'line', xAxisIndex:ax, yAxisIndex:ax, data:t[0], smooth:0.5, symbol:'none', z:4, silent:true,
    lineStyle:{color:t[1], width:8, type:[34,25], cap:'butt'}}));
}
boxPanel(shannonStats, shannonPts, [[shTrendRYGB,'#D7261E'],[shTrendSG,'#5A922B'],[shTrendLSG,'#F4862B']], 0);
boxPanel(aceStats, acePts, [[aceTrendRYGB,'#D7261E'],[aceTrendSG,'#5A922B'],[aceTrendLSG,'#F4862B']], 1);

const toUnits = arr => arr.map(p => [p[0] / 1000, p[1] / 1000]);
const zeroLines = {silent:true, symbol:['none','none'], label:{show:false}, lineStyle:{color:'#000', width:3, type:[3,8]},
  data:[{xAxis:0},{yAxis:0}], animation:false};
[[pcPRJEB12123,0],[pcPRJNA668357,3],[pcPRJEB12947,1],[pcPRJNA597839,2]].forEach((d, k) => {
  const s = {type:'scatter', xAxisIndex:2, yAxisIndex:2, data:toUnits(d[0]), symbolSize:15, itemStyle:{color:pcProjectColors[d[1]], opacity:1}, silent:true, z:3};
  if (k === 0) s.markLine = zeroLines;
  series.push(s);
});
[[pcOB,1],[pcTreat,2],[pcHealthy,0]].forEach((d, k) => {
  const s = {type:'scatter', xAxisIndex:3, yAxisIndex:3, data:toUnits(d[0]), symbolSize:15, itemStyle:{color:treatColors[d[1]], opacity:1}, silent:true, z:3};
  if (k === 0) s.markLine = zeroLines;
  series.push(s);
});
// Venn
series.push({type:'custom', xAxisIndex:4, yAxisIndex:4, silent:true, z:2,
  data: vennCenters.map((c, i) => [c[0], c[1], 1, i]),
  renderItem: (params, api) => {
    const p = api.coord([api.value(0), api.value(1)]);
    const r = api.size([api.value(2), 0])[0];
    return {type:'circle', shape:{cx:p[0], cy:p[1], r:r}, style:{fill:vennFills[api.value(3)], stroke:'#000', lineWidth:2}};
  }});
series.push({type:'scatter', xAxisIndex:4, yAxisIndex:4, silent:true, z:5, symbolSize:1, itemStyle:{color:'rgba(0,0,0,0)'},
  data: vennValuePos.map((p, i) => ({value:p, label:{show:true, position:'inside', formatter:vennValues[i], color:'#000', fontSize:33, fontFamily:FONT}}))});

// ---------------- axes ----------------
function catXAxis(gi, margin) {
  return {type:'value', gridIndex:gi, min:0.4, max:7.6, splitLine:{show:false},
    axisLine:{onZero:false, lineStyle:{color:'#000', width:3}},
    axisTick:{customValues:[1,2,3,4,5,6,7], length:10, lineStyle:{color:'#000', width:3}},
    axisLabel:{customValues:[1,2,3,4,5,6,7], formatter:v => categories[Math.round(v) - 1], rotate:45, align:'center', verticalAlign:'middle',
      margin:margin, fontSize:44, color:'#000', fontFamily:FONT}};
}
function numYAxis(gi, min, max, ticks, dec, name, gap) {
  return {type:'value', gridIndex:gi, min:min, max:max, splitLine:{show:false},
    axisLine:{onZero:false, lineStyle:{color:'#000', width:3}},
    axisTick:{customValues:ticks, length:10, lineStyle:{color:'#000', width:3}},
    axisLabel:{customValues:ticks, formatter:v => v.toFixed(dec), margin:20, fontSize:45, color:'#000', fontFamily:FONT},
    name:name, nameLocation:'middle', nameGap:gap, nameRotate:90, nameTextStyle:{fontSize:54, color:'#000', fontFamily:FONT}};
}
function pcX(gi, max) {
  const t = [-0.06,-0.04,-0.02,0,0.02];
  return {type:'value', gridIndex:gi, min:-0.0645, max:max, splitLine:{show:false},
    axisLine:{onZero:false, lineStyle:{color:'#000', width:2.5}},
    axisTick:{customValues:t, length:8, lineStyle:{color:'#333', width:2.5}},
    axisLabel:{customValues:t, formatter:v => (Math.abs(v) < 1e-9 ? '0.00' : (v < 0 ? '\u22120.0' : '0.0') + Math.round(Math.abs(v) * 100)), margin:12,
      fontSize:28, color:'#4D4D4D', fontFamily:FONT},
    name:'PC1(21.26%)', nameLocation:'middle', nameGap:46, nameTextStyle:{fontSize:38, color:'#000', fontFamily:FONT}};
}
function pcY(gi) {
  const t = [0, 0.025];
  return {type:'value', gridIndex:gi, min:-0.0240, max:0.0492, splitLine:{show:false},
    axisLine:{onZero:false, lineStyle:{color:'#000', width:2.5}},
    axisTick:{customValues:t, length:8, lineStyle:{color:'#333', width:2.5}},
    axisLabel:{customValues:t, formatter:v => v.toFixed(3), margin:12, fontSize:28, color:'#4D4D4D', fontFamily:FONT},
    name:'PC2(12.49%)', nameLocation:'middle', nameGap:96, nameRotate:90, nameTextStyle:{fontSize:38, color:'#000', fontFamily:FONT}};
}

// ---------------- graphics (labels, legends) ----------------
const G = [];
function txt(x, y, text, size, o) {
  o = o || {};
  G.push({type:'text', x:x, y:y, z:20, silent:true,
    style:{text:text, fill:o.color || '#000', fontSize:size, fontFamily:o.family || FONT,
      align:o.align || 'left', verticalAlign:'middle', textAlign:o.align || 'left', textVerticalAlign:'middle'}});
}
function glyph(cx, cy, boxCol, shapeCol, shape) {
  G.push({type:'line', z:20, silent:true, shape:{x1:cx,y1:cy-25,x2:cx,y2:cy+25}, style:{stroke:boxCol, lineWidth:7}});
  G.push({type:'rect', z:21, silent:true, shape:{x:cx-22.5,y:cy-14.5,width:45,height:29,r:3}, style:{fill:'#fff', stroke:boxCol, lineWidth:7}});
  G.push({type:'line', z:22, silent:true, shape:{x1:cx-23,y1:cy,x2:cx+23,y2:cy}, style:{stroke:boxCol, lineWidth:7}});
  let s;
  if (shape === 'circle') s = {type:'circle', shape:{cx:cx, cy:cy, r:9}, style:{fill:shapeCol}};
  else if (shape === 'triangle') s = {type:'polygon', shape:{points:[[cx,cy-11],[cx+11,cy+8],[cx-11,cy+8]]}, style:{fill:shapeCol}};
  else if (shape === 'rect') s = {type:'rect', shape:{x:cx-8,y:cy-8,width:16,height:16}, style:{fill:shapeCol}};
  else s = {type:'polyline', shape:{points:[[cx-14,cy],[cx+14,cy]]}, style:{stroke:shapeCol, lineWidth:3}};
  s.z = 23; s.silent = true; G.push(s);
  if (shape === 'plus') G.push({type:'line', z:23, silent:true, shape:{x1:cx,y1:cy-12,x2:cx,y2:cy+12}, style:{stroke:shapeCol, lineWidth:3}});
}
function boxLegend(cx, tx, projRows, groupRows) {
  const shapes = ['circle','triangle','rect','plus'];
  projects.forEach((p, i) => { glyph(cx, projRows[i], '#333', '#000', shapes[i]); txt(tx, projRows[i], p, 45); });
  groups.forEach((g, i) => { glyph(cx, groupRows[i], groupColors[i], groupColors[i], 'circle'); txt(tx, groupRows[i], g, 45); });
}
boxLegend(3181, 3235, [266,327,388,448], [593,654,716,777,836]);
boxLegend(3211, 3264, [1431,1494,1555,1617], [1767,1828,1889,1952,2013]);
// panel letters
txt(6, 30, 'A', 58); txt(6, 1196, 'B', 58);
txt(18, 2460, 'C', 58, {family:FONT2}); txt(1072, 2460, 'D', 58, {family:FONT2}); txt(2052, 2460, 'E', 58, {family:FONT2});
// titles C, D
txt(163, 2457, 'Adonis R^2=0.03539 Pvalue=0.001', 43, {family:FONT2});
txt(163, 2517, 'VPA independent contribution 0.00771', 43, {family:FONT2});
txt(1163, 2466, 'Adonis R^2=0.06557  Pvalue=0.001', 43, {family:FONT2});
txt(1163, 2525, 'VPA  independent contribution 0.06754', 43, {family:FONT2});
// PCoA legends
projects.forEach((p, i) => {
  const y = [2587,2652,2716,2781][i];
  G.push({type:'circle', z:20, silent:true, shape:{cx:192, cy:y, r:8}, style:{fill:pcProjectColors[i]}});
  txt(244, y, p, 34);
});
treatNames.forEach((t, i) => {
  const y = [2598,2668,2737][i];
  G.push({type:'circle', z:20, silent:true, shape:{cx:1193, cy:y, r:8}, style:{fill:treatColors[i]}});
  txt(1250, y, t, 36);
});
// Venn labels
txt(2227, 2571, vennSetNames[0], 38);
txt(3246, 2575, vennSetNames[1], 38, {align:'center'});
txt(2425, 3472, vennSetNames[2], 38);
txt(3270, 3494, 'Residuals = ' + vennResiduals.toFixed(2), 33, {align:'right'});

const option = {
  animation:false,
  backgroundColor:'#fff',
  textStyle:{fontFamily:FONT},
  grid:[
    {left:194, top:55, width:2894, height:992, outerBoundsMode:'none'},
    {left:204, top:1222, width:2911, height:1007, outerBoundsMode:'none'},
    {left:147, top:2552, width:843, height:991, outerBoundsMode:'none'},
    {left:1147, top:2552, width:960, height:991, outerBoundsMode:'none'},
    {left:2181, top:2503, width:1170, height:1046, show:true, borderColor:'#000', borderWidth:2.5, backgroundColor:'rgba(0,0,0,0)', outerBoundsMode:'none'}
  ],
  xAxis:[ catXAxis(0, 88), catXAxis(1, 96), pcX(2, 0.0321), pcX(3, 0.0344),
    {type:'value', gridIndex:4, min:-1.93, max:1.93, show:false} ],
  yAxis:[ numYAxis(0, 2.245, 3.913, [2.5,3.0,3.5], 1, 'shannon', 96),
    numYAxis(1, 253.3, 1059.2, [400,600,800,1000], 0, 'ace', 140),
    pcY(2), pcY(3),
    {type:'value', gridIndex:4, min:-1.725, max:1.732, show:false} ],
  series: series,
  graphic: G
};
const chart = echarts.init(document.getElementById('c'), null, {renderer:'canvas'});
chart.setOption(option);
</script></body></html>
